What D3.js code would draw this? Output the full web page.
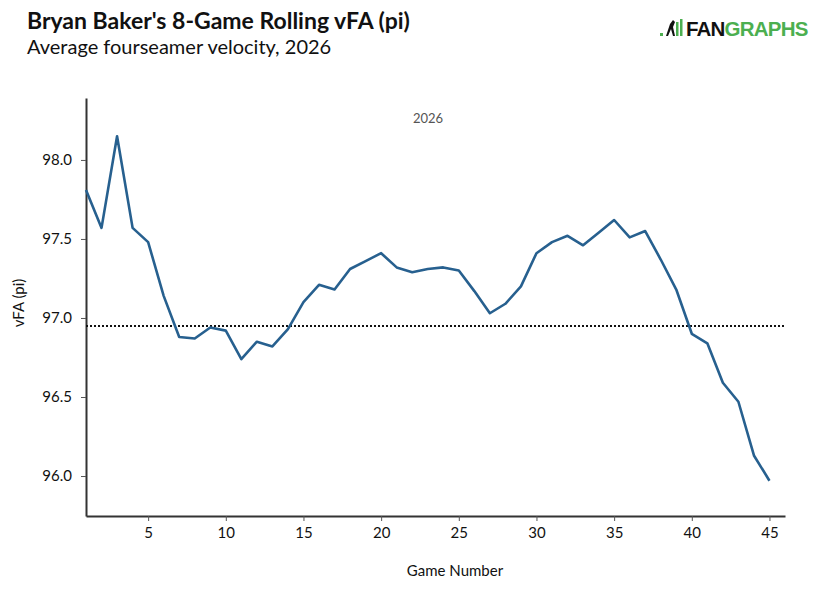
<!DOCTYPE html>
<html>
<head>
<meta charset="utf-8">
<script src="https://cdn.jsdelivr.net/npm/d3@7"></script>
<style>
  body { margin: 0; background: #fff; }
  svg { font-family: Lato, "Open Sans", sans-serif; }
</style>
</head>
<body>
<div class="content"></div>
<script>
//--> Chart data
const games = d3.range(1, 46);
const velo = [
  97.81, 97.57, 98.15, 97.57, 97.48, 97.14, 96.88, 96.87, 96.94, 96.92,
  96.74, 96.85, 96.82, 96.93, 97.10, 97.21, 97.18, 97.31, 97.36, 97.41,
  97.32, 97.29, 97.31, 97.32, 97.30, 97.17, 97.03, 97.09, 97.20, 97.41,
  97.48, 97.52, 97.46, 97.54, 97.62, 97.51, 97.55, 97.37, 97.18, 96.90,
  96.84, 96.59, 96.47, 96.13, 95.97
];
const seasonAvg = 96.95;
const xTicks = [5, 10, 15, 20, 25, 30, 35, 40, 45];
const yTicks = [96.0, 96.5, 97.0, 97.5, 98.0];

//--> Set up main elements
const width = 817;
const height = 590;
const margin = { top: 98, right: 32, bottom: 74, left: 86 };

const svg = d3
  .select(".content")
  .append("svg")
  .attr("width", width)
  .attr("height", height);

const x = d3
  .scaleLinear()
  .domain([1, 46])
  .range([margin.left, width - margin.right]);

const y = d3
  .scaleLinear()
  .domain([95.747, 98.392])
  .range([height - margin.bottom, margin.top]);

//--> Titles
svg
  .append("text")
  .attr("x", 27)
  .attr("y", 29)
  .attr("font-size", 23)
  .attr("font-weight", 700)
  .attr("fill", "#111")
  .text("Bryan Baker's 8-Game Rolling vFA (pi)");

svg
  .append("text")
  .attr("x", 27)
  .attr("y", 54)
  .attr("font-size", 20)
  .attr("fill", "#111")
  .text("Average fourseamer velocity, 2026");

//--> Logo
const logo = svg.append("g").attr("transform", "translate(660, 18)");
logo.append("rect").attr("x", 0).attr("y", 15).attr("width", 3).attr("height", 3).attr("fill", "#4caf50");
logo.append("path")
  .attr("d", "M6 18 L10 6 L13 2 L15 4 L13 9 L15 18 L13 18 L11 11 L8 18 Z")
  .attr("fill", "#111");
logo.append("rect").attr("x", 16).attr("y", 4).attr("width", 2.5).attr("height", 14).attr("fill", "#4caf50");
logo.append("rect").attr("x", 20).attr("y", 1).attr("width", 2.5).attr("height", 17).attr("fill", "#4caf50");
logo
  .append("text")
  .attr("x", 26)
  .attr("y", 18)
  .attr("font-family", "'Liberation Sans', Arial, sans-serif")
  .attr("font-size", 20.5)
  .attr("font-weight", 700)
  .attr("letter-spacing", -0.8)
  .call(t => t.append("tspan").attr("fill", "#111").text("FAN"))
  .call(t => t.append("tspan").attr("fill", "#4caf50").text("GRAPHS"));

//--> Year label
svg
  .append("text")
  .attr("x", 428)
  .attr("y", 123)
  .attr("text-anchor", "middle")
  .attr("font-size", 13)
  .attr("fill", "#555")
  .text("2026");

//--> Axes
const xAxis = svg
  .append("g")
  .attr("transform", `translate(0, ${height - margin.bottom})`)
  .call(d3.axisBottom(x).tickValues(xTicks).tickSize(5).tickSizeOuter(0));

const yAxis = svg
  .append("g")
  .attr("transform", `translate(${margin.left}, 0)`)
  .call(
    d3.axisLeft(y).tickValues(yTicks).tickFormat(d3.format(".1f")).tickSize(5).tickSizeOuter(0)
  );

[xAxis, yAxis].forEach(a => {
  a.select(".domain").attr("stroke", "#333").attr("stroke-width", 2);
  a.selectAll(".tick line").attr("stroke", "#555");
  a.selectAll(".tick text")
    .attr("font-family", "Lato, sans-serif")
    .attr("font-size", 15)
    .attr("fill", "#111");
});
xAxis.selectAll(".tick text").attr("dy", "0.95em");
yAxis.selectAll(".tick text").attr("x", -14);

svg
  .append("text")
  .attr("x", 455)
  .attr("y", 576)
  .attr("text-anchor", "middle")
  .attr("font-size", 15)
  .attr("fill", "#111")
  .text("Game Number");

svg
  .append("text")
  .attr("transform", `translate(24, 303) rotate(-90)`)
  .attr("text-anchor", "middle")
  .attr("font-size", 15)
  .attr("fill", "#111")
  .text("vFA (pi)");

//--> Season average
svg
  .append("line")
  .attr("x1", margin.left)
  .attr("x2", width - margin.right)
  .attr("y1", y(seasonAvg))
  .attr("y2", y(seasonAvg))
  .attr("stroke", "#111")
  .attr("stroke-width", 2)
  .attr("stroke-dasharray", "2,2");

//--> Rolling line
const line = d3
  .line()
  .x((_, i) => x(games[i]))
  .y(d => y(d));

svg
  .append("path")
  .datum(velo)
  .attr("d", line)
  .attr("fill", "none")
  .attr("stroke", "#27608f")
  .attr("stroke-width", 2.6)
  .attr("stroke-linejoin", "round");
</script>
</body>
</html>
